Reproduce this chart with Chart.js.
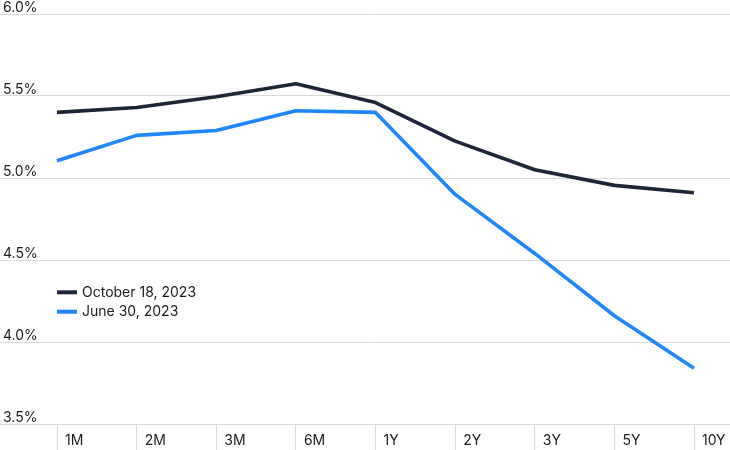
<!DOCTYPE html>
<html>
<head>
<meta charset="utf-8">
<script src="https://cdn.jsdelivr.net/npm/chart.js@4/dist/chart.umd.min.js"></script>
<style>
  html, body { margin: 0; padding: 0; background: #ffffff; }
  #wrap { width: 730px; height: 450px; position: relative; }
</style>
</head>
<body>
<div id="wrap"><canvas id="c" width="730" height="450"></canvas></div>
<script>
// ---- data ----
const categories = ['1M', '2M', '3M', '6M', '1Y', '2Y', '3Y', '5Y', '10Y'];
const seriesNames = ['October 18, 2023', 'June 30, 2023'];
const oct18 = [5.40, 5.43, 5.495, 5.575, 5.46, 5.225, 5.05, 4.955, 4.91];
const jun30 = [5.105, 5.26, 5.29, 5.41, 5.40, 4.90, 4.54, 4.16, 3.84];
const yTicks = [3.5, 4.0, 4.5, 5.0, 5.5, 6.0];

// ---- styles ----
const FONT = 'Inter';
const TEXT = '#1b1b1b';
const GRID = '#dadada';
const COLORS = ['#1d2536', '#1f86fb'];

const insideLegend = {
  id: 'insideLegend',
  afterDatasetsDraw(chart) {
    const ctx = chart.ctx;
    const left = chart.chartArea.left;
    ctx.save();
    ctx.font = '14px ' + FONT;
    ctx.textBaseline = 'middle';
    ctx.textAlign = 'left';
    chart.data.datasets.forEach((d, i) => {
      const y = 292.3 + i * 19.4;
      ctx.strokeStyle = d.borderColor;
      ctx.lineWidth = 4;
      ctx.lineCap = 'butt';
      ctx.beginPath();
      ctx.moveTo(left, y);
      ctx.lineTo(left + 20, y);
      ctx.stroke();
      ctx.fillStyle = TEXT;
      ctx.fillText(d.label, left + 25, y + 0.5);
    });
    ctx.restore();
  }
};

const setTicks = (scale) => { scale.ticks = yTicks.map(v => ({ value: v })); };

new Chart(document.getElementById('c'), {
  type: 'line',
  data: {
    labels: categories,
    datasets: [
      { label: seriesNames[0], data: oct18, borderColor: COLORS[0], backgroundColor: COLORS[0] },
      { label: seriesNames[1], data: jun30, borderColor: COLORS[1], backgroundColor: COLORS[1] }
    ]
  },
  options: {
    responsive: false,
    animation: false,
    devicePixelRatio: 1,
    layout: { padding: { top: 14, left: 0, right: 0, bottom: 0 } },
    elements: {
      line: { borderWidth: 3.6, tension: 0, borderJoinStyle: 'round', borderCapStyle: 'butt', fill: false },
      point: { radius: 0, hoverRadius: 0 }
    },
    plugins: {
      legend: { display: false },
      tooltip: { enabled: false },
      title: { display: false }
    },
    scales: {
      x: {
        type: 'category',
        offset: false,
        border: { display: false },
        grid: { display: true, drawOnChartArea: false, drawTicks: true, tickLength: 26, color: GRID, tickColor: GRID, lineWidth: 1 },
        ticks: {
          align: 'start', labelOffset: 8, padding: -18, autoSkip: false, maxRotation: 0, minRotation: 0,
          color: TEXT, font: { family: FONT, size: 14 }
        },
        afterFit: (s) => { s.height = 26; }
      },
      y: {
        position: 'left',
        min: 3.5, max: 6.0,
        afterBuildTicks: setTicks,
        border: { display: false },
        grid: { color: GRID, tickColor: GRID, lineWidth: 1, drawTicks: true, tickLength: 57 },
        ticks: {
          mirror: true, padding: -54, labelOffset: -6,
          color: TEXT, font: { family: FONT, size: 14 },
          callback: (v) => Number(v).toFixed(1) + '%'
        },
        afterFit: (s) => { s.width = 57; }
      },
      y2: {
        position: 'right',
        min: 3.5, max: 6.0,
        afterBuildTicks: setTicks,
        border: { display: false },
        grid: { drawOnChartArea: false, color: GRID, tickColor: GRID, lineWidth: 1, drawTicks: true, tickLength: 36 },
        ticks: { display: false },
        afterFit: (s) => { s.width = 36; }
      }
    }
  },
  plugins: [insideLegend]
});
</script>
</body>
</html>
